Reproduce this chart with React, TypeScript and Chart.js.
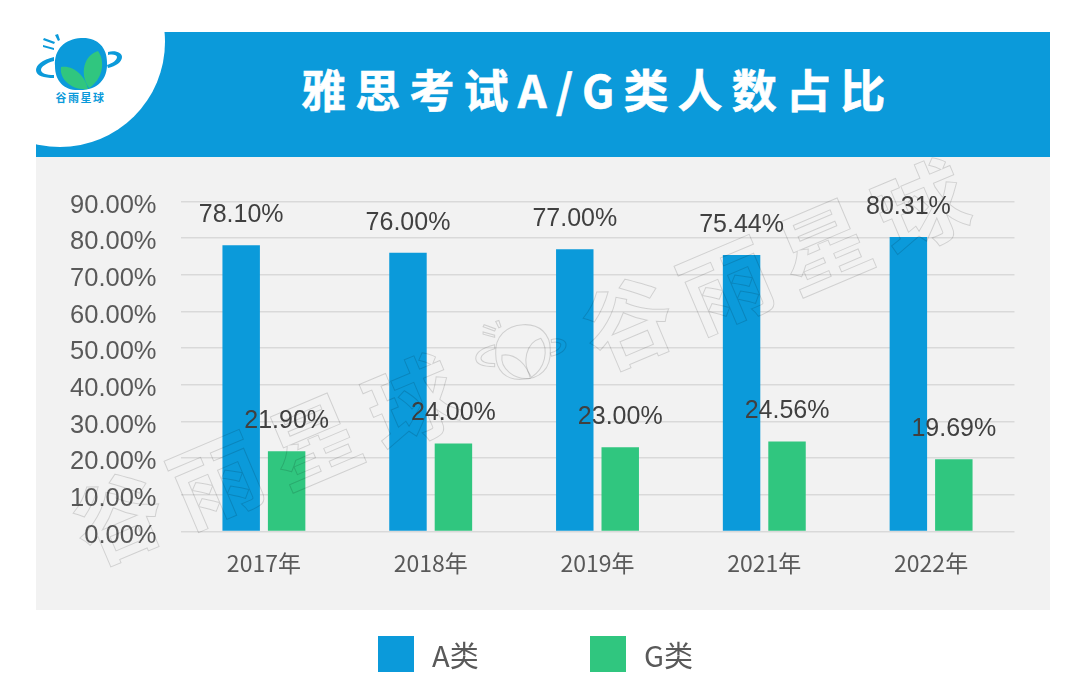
import React, { useEffect, useRef } from 'react';
import { Chart, registerables } from 'chart.js';

Chart.register(...registerables);

const title = '雅思考试A/G类人数占比';
const years = ['2017年', '2018年', '2019年', '2021年', '2022年'];
const seriesNames = ['A类', 'G类'];
const aValues = [78.1, 76.0, 77.0, 75.44, 80.31];
const gValues = [21.9, 24.0, 23.0, 24.56, 19.69];

const BLUE = '#0b9ada';
const GREEN = '#30c67f';
const LATIN = '"Liberation Sans", Arial, sans-serif';
const CJK = '"Noto Sans CJK SC", sans-serif';

// logo shapes, shared by the header logo and the watermark
const blobPath = 'M81 38 C97 37 107 47 107 62 C108 80 97 90 80 90 C65 91 55 82 55 66 C54 49 65 39 81 38 Z';
const ringPath = 'M54 57 C42 60 36 65 36 70 C36 76 44 78 54 78 L54 75 C46 75 41 73 41 70 C41 67 46 63 54 61 Z M108 52 C116 50 122 53 122 57 C122 62 116 66 108 68 L107 65 C113 63 117 60 117 57 C117 55 113 54 108 55 Z';
const rayPath = 'M55 35 L58 34 L60 40 L58 41 Z M43 40 L44 38 L55 42 L54 44 Z M43 47 L43 45 L54 48 L54 50 Z';
const leftLeaf = 'M88 89 C85 76 74 65 61 67 C59 80 73 91 88 89 Z';
const rightLeaf = 'M89 88 C79 74 84 55 98 51 C106 62 102 80 89 88 Z';

const valueLabels = {
  id: 'valueLabels',
  afterDatasetsDraw(chart: Chart) {
    const { ctx } = chart;
    ctx.save();
    ctx.font = `25px ${LATIN}`;
    ctx.fillStyle = '#404040';
    ctx.textAlign = 'center';
    ctx.textBaseline = 'middle';
    chart.data.datasets.forEach((ds, i) => {
      chart.getDatasetMeta(i).data.forEach((bar, j) => {
        const v = ds.data[j] as number;
        ctx.fillText(v.toFixed(2) + '%', bar.x, bar.y - 30);
      });
    });
    ctx.restore();
  },
};

const watermark = {
  id: 'watermark',
  afterDraw(chart: Chart) {
    const { ctx } = chart;
    const chars = '谷雨星球';
    const runs = [[118, 518], [628, 323]];
    ctx.save();
    ctx.strokeStyle = 'rgba(0, 0, 0, 0.14)';
    ctx.lineWidth = 1;
    ctx.font = `bold 90px ${CJK}`;
    ctx.textAlign = 'center';
    ctx.textBaseline = 'middle';
    runs.forEach(([x0, y0]) => {
      for (let i = 0; i < chars.length; i++) {
        ctx.save();
        ctx.translate(x0 + i * 98, y0 - i * 38.5);
        ctx.rotate((-23 * Math.PI) / 180);
        ctx.strokeText(chars[i], 0, 0);
        ctx.restore();
      }
    });
    // small logo in the middle of the watermark
    ctx.translate(523, 352);
    ctx.scale(1.05, 1.05);
    ctx.translate(-81, -64);
    [blobPath, ringPath, rayPath, leftLeaf, rightLeaf].forEach((d) => ctx.stroke(new Path2D(d)));
    ctx.restore();
  },
};

const App: React.FC = () => {
  const canvasRef = useRef<HTMLCanvasElement>(null);

  useEffect(() => {
    if (!canvasRef.current) return;
    const chart = new Chart(canvasRef.current, {
      type: 'bar',
      data: {
        labels: years,
        datasets: [
          { label: seriesNames[0], data: aValues, backgroundColor: BLUE, categoryPercentage: 0.545, barPercentage: 0.824 },
          { label: seriesNames[1], data: gValues, backgroundColor: GREEN, categoryPercentage: 0.545, barPercentage: 0.824 },
        ],
      },
      options: {
        responsive: false,
        animation: false,
        devicePixelRatio: 1,
        layout: { padding: { top: 201.5, right: 65.5, bottom: 0, left: 0 } },
        plugins: { legend: { display: false }, title: { display: false }, tooltip: { enabled: false } },
        scales: {
          x: {
            afterFit: (scale: any) => { scale.height = 167.5; },
            grid: { display: false },
            border: { display: false },
            ticks: { color: '#595959', padding: 10, font: { family: CJK, size: 23 }, maxRotation: 0 },
          },
          y: {
            min: 0,
            max: 90,
            afterFit: (scale: any) => { scale.width = 180.5; },
            border: { display: false },
            grid: { color: '#d9d9d9', lineWidth: 1.6, drawTicks: false },
            ticks: {
              stepSize: 10,
              color: '#595959',
              padding: 24,
              labelOffset: 4,
              font: { family: LATIN, size: 25.5 },
              callback: (v: any) => Number(v).toFixed(2) + '%',
            },
          },
        },
      },
      plugins: [valueLabels, watermark],
    });
    return () => chart.destroy();
  }, []);

  const legendColors = [BLUE, GREEN];
  const legendLefts = [378, 590];

  return (
    <div style={{ position: 'fixed', left: 0, top: 0, width: 1080, height: 699, background: '#fff', overflow: 'hidden' }}>
      <div style={{ position: 'absolute', left: 36, top: 32, width: 1014, height: 125, background: BLUE, overflow: 'hidden' }}>
        {/* white corner behind the logo */}
        <div style={{ position: 'absolute', left: -81, top: -95, width: 210, height: 210, borderRadius: '50%', background: '#fff' }} />
      </div>
      <div style={{ position: 'absolute', left: 36, top: 157, width: 1014, height: 453, background: '#f2f2f2' }} />
      <div style={{ position: 'absolute', left: 301, top: 56, height: 66, lineHeight: '66px', fontFamily: CJK, fontWeight: 700, fontSize: 45, letterSpacing: 9.2, color: '#fff', whiteSpace: 'nowrap', WebkitTextStroke: '0.6px #fff' }}>
        {title}
      </div>
      <svg width={170} height={120} style={{ position: 'absolute', left: 0, top: 0 }}>
        <path d={blobPath} fill={BLUE} />
        <path d={ringPath} fill={BLUE} />
        <path d={rayPath} fill={BLUE} />
        <path d={leftLeaf} fill={GREEN} />
        <path d={rightLeaf} fill={GREEN} />
        <text x={80.5} y={102} textAnchor="middle" fontFamily="Noto Sans CJK SC" fontWeight={700} fontSize={11} letterSpacing={1.5} fill={BLUE}>谷雨星球</text>
      </svg>
      <canvas ref={canvasRef} width={1080} height={699} style={{ position: 'absolute', left: 0, top: 0 }} />
      {seriesNames.map((name, i) => (
        <div key={name} style={{ position: 'absolute', left: legendLefts[i], top: 636, height: 36, display: 'flex', alignItems: 'center' }}>
          <span style={{ width: 36, height: 36, background: legendColors[i], display: 'block' }} />
          <span style={{ marginLeft: 18, fontFamily: CJK, fontSize: 29, color: '#595959', lineHeight: '36px' }}>{name}</span>
        </div>
      ))}
    </div>
  );
};

export default App;
